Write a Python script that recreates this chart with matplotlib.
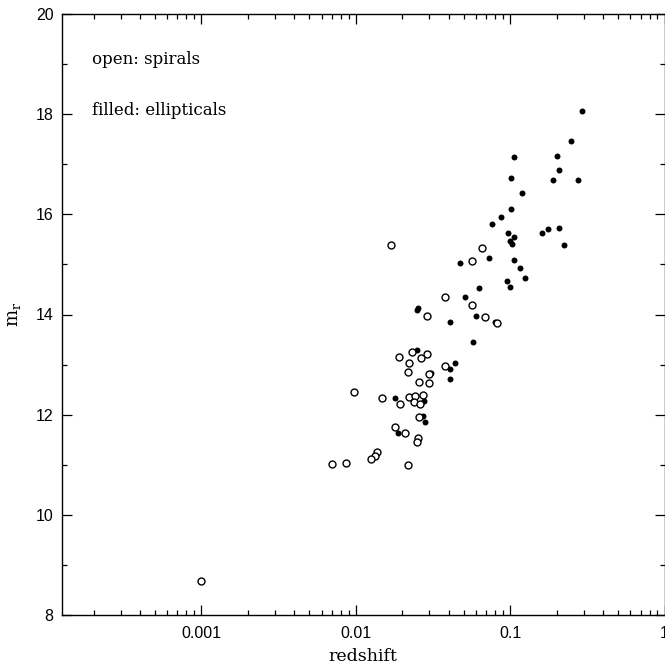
import matplotlib
matplotlib.use("Agg")
import matplotlib.pyplot as plt
from matplotlib.ticker import FixedLocator, NullFormatter, FixedFormatter

# Spirals (open circles)
spiral_z = [0.00099, 0.0070, 0.0086, 0.0137, 0.0133, 0.0126, 0.0218, 0.0098,
            0.0148, 0.0222, 0.0241, 0.0272, 0.0192, 0.0239, 0.0261, 0.0258,
            0.0180, 0.0209, 0.0253, 0.0250, 0.0381, 0.0570, 0.0290, 0.0231,
            0.0290, 0.0190, 0.0264, 0.0222, 0.0379, 0.0217, 0.0299, 0.0258,
            0.0300, 0.0169, 0.0570, 0.0661, 0.0692, 0.0818]
spiral_m = [8.68, 11.02, 11.04, 11.26, 11.18, 11.11, 11.00, 12.45,
            12.33, 12.35, 12.38, 12.40, 12.22, 12.25, 12.22, 11.95,
            11.76, 11.64, 11.53, 11.46, 14.35, 14.18, 13.97, 13.26,
            13.21, 13.15, 13.14, 13.04, 12.97, 12.85, 12.82, 12.65,
            12.63, 15.39, 15.07, 15.33, 13.96, 13.84]

# Ellipticals (filled circles)
ellip_z = [0.0632, 0.0513, 0.0252, 0.0249, 0.0600, 0.0410, 0.0573, 0.0249,
           0.0442, 0.0410, 0.0309, 0.0410, 0.0180, 0.0277, 0.0272, 0.0281,
           0.0187, 0.290, 0.247, 0.1066, 0.202, 0.206, 0.1015, 0.189,
           0.275, 0.1202, 0.1015, 0.0874, 0.0761, 0.0975, 0.1066, 0.162,
           0.177, 0.206, 0.1004, 0.1025, 0.225, 0.0731, 0.0472, 0.1066,
           0.1156, 0.1256, 0.0956, 0.1004, 0.0803]
ellip_m = [14.52, 14.34, 14.12, 14.08, 13.98, 13.86, 13.46, 13.30,
           13.03, 12.91, 12.84, 12.71, 12.34, 12.27, 11.98, 11.86,
           11.64, 18.07, 17.47, 17.14, 17.16, 16.89, 16.73, 16.69,
           16.68, 16.43, 16.11, 15.95, 15.80, 15.63, 15.54, 15.63,
           15.71, 15.72, 15.47, 15.41, 15.39, 15.13, 15.03, 15.09,
           14.93, 14.72, 14.67, 14.55, 13.85]

x_major = [0.001, 0.01, 0.1, 1]
x_labels = ["0.001", "0.01", "0.1", "1"]
y_major = [8, 10, 12, 14, 16, 18, 20]
y_minor = [9, 11, 13, 15, 17, 19]

SERIF = "DejaVu Serif"
SANS = "Liberation Sans"

fig = plt.figure(figsize=(6.65, 6.67), dpi=100)
ax = fig.add_axes([62 / 665, 52 / 667, 602.5 / 665, 601 / 667])

ax.plot(ellip_z, ellip_m, "o", color="black", ms=4.3, mew=0)
ax.plot(spiral_z, spiral_m, "o", mfc="white", mec="black", ms=5.0, mew=1.0)

ax.set_xscale("log")
ax.set_xlim(1.25e-4, 1.0)
ax.set_ylim(8, 20)

x_minor = [m * 10.0 ** e for e in range(-4, 0) for m in range(2, 10)]
ax.xaxis.set_major_locator(FixedLocator(x_major))
ax.xaxis.set_major_formatter(FixedFormatter(x_labels))
ax.xaxis.set_minor_locator(FixedLocator(x_minor))
ax.xaxis.set_minor_formatter(NullFormatter())
ax.yaxis.set_major_locator(FixedLocator(y_major))
ax.yaxis.set_minor_locator(FixedLocator(y_minor))

ax.tick_params(which="both", direction="in", top=True, right=True,
               colors="black", width=0.9)
ax.tick_params(which="major", length=7)
ax.tick_params(which="minor", length=3.8)
ax.tick_params(axis="x", which="major", pad=8)
ax.tick_params(axis="y", which="major", pad=6)
for lbl in ax.get_xticklabels() + ax.get_yticklabels():
    lbl.set_fontfamily(SANS)
    lbl.set_fontsize(11.5)

for sp in ax.spines.values():
    sp.set_linewidth(1.0)

ax.set_xlabel("redshift", family=SERIF, fontsize=12.5, labelpad=5)
ax.set_ylabel(r"$\mathregular{m_r}$", family=SERIF, fontsize=13, labelpad=9)

ax.text(0.05, 0.925, "open: spirals", transform=ax.transAxes,
        family=SERIF, fontsize=12, va="center")
ax.text(0.05, 0.84, "filled: ellipticals", transform=ax.transAxes,
        family=SERIF, fontsize=12, va="center")

fig.savefig("out.png", dpi=100)
